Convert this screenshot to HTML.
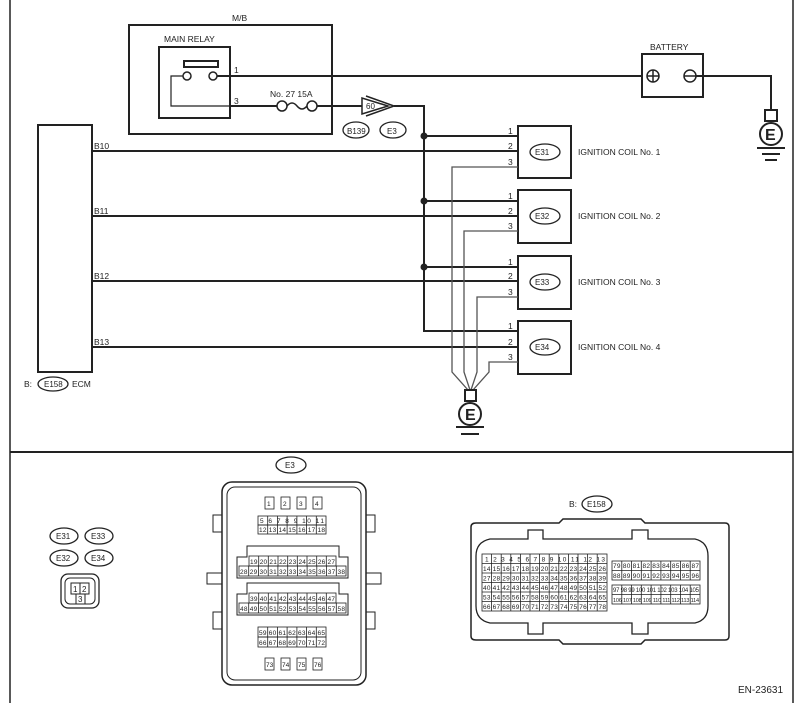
<!DOCTYPE html>
<html><head><meta charset="utf-8"><style>
body{margin:0;background:#fff}
svg{display:block;font-family:"Liberation Sans",sans-serif}
</style></head><body>
<svg width="804" height="703" viewBox="0 0 804 703" xmlns="http://www.w3.org/2000/svg">
<g fill="none" stroke="#222">
<line x1="10" y1="0" x2="10" y2="703" stroke-width="1.5"/>
<line x1="793" y1="0" x2="793" y2="703" stroke-width="1.5"/>
<line x1="10" y1="452" x2="793" y2="452" stroke-width="2"/>
<rect x="129" y="25" width="203" height="109" stroke-width="2"/>
<rect x="159" y="47" width="71" height="71" stroke-width="2"/>
<rect x="184" y="61" width="34" height="6" stroke-width="2"/>
<circle cx="187" cy="76" r="4" stroke-width="1.5"/>
<circle cx="213" cy="76" r="4" stroke-width="1.5"/>
<polyline points="183,76 171,76 171,106 230,106" stroke-width="1.2"/>
<line x1="217" y1="76" x2="642" y2="76" stroke-width="2"/>
<line x1="230" y1="106" x2="277" y2="106" stroke-width="2"/>
<circle cx="282" cy="106" r="5" stroke-width="1.5"/>
<circle cx="312" cy="106" r="5" stroke-width="1.5"/>
<path d="M287,106 Q292,100 297,106 T307,106" stroke-width="1.5"/>
<line x1="317" y1="106" x2="362" y2="106" stroke-width="2"/>
<polygon points="362,98 362,114 388,106" stroke-width="1.5"/>
<polyline points="366,96 394,106 366,116" stroke-width="1.5"/>
<polyline points="394,106 424,106 424,331 518,331" stroke-width="2"/>
<rect x="642" y="54" width="61" height="43" stroke-width="2"/>
<circle cx="653" cy="76" r="6" stroke-width="1.5"/>
<line x1="647" y1="76" x2="659" y2="76" stroke-width="1.5"/><line x1="653" y1="70" x2="653" y2="82" stroke-width="1.5"/>
<circle cx="690" cy="76" r="6" stroke-width="1.5"/>
<line x1="684" y1="76" x2="696" y2="76" stroke-width="1.5"/>
<polyline points="696,76 771,76 771,110" stroke-width="2"/>
<rect x="765" y="110" width="12" height="11" stroke-width="2"/>
<circle cx="771" cy="134" r="11" stroke-width="2"/>
<line x1="757" y1="148" x2="785" y2="148" stroke-width="2"/>
<line x1="762" y1="154" x2="780" y2="154" stroke-width="2"/>
<line x1="765" y1="160" x2="777" y2="160" stroke-width="2"/>
<rect x="38" y="125" width="54" height="247" stroke-width="2"/>
<rect x="518" y="126" width="53" height="52" stroke-width="2"/>
<rect x="518" y="190" width="53" height="53" stroke-width="2"/>
<rect x="518" y="256" width="53" height="53" stroke-width="2"/>
<rect x="518" y="321" width="53" height="53" stroke-width="2"/>
<g stroke-width="2">
<line x1="424" y1="136" x2="518" y2="136"/><line x1="424" y1="201" x2="518" y2="201"/><line x1="424" y1="267" x2="518" y2="267"/>
<line x1="92" y1="151" x2="518" y2="151"/><line x1="92" y1="216" x2="518" y2="216"/><line x1="92" y1="281" x2="518" y2="281"/><line x1="92" y1="347" x2="518" y2="347"/>
</g>
<g stroke="#555" stroke-width="1.3">
<polyline points="518,167 452,167 452,372 468,390"/>
<polyline points="518,231 464,231 464,372 470,390"/>
<polyline points="518,297 477,297 477,372 471,390"/>
<polyline points="518,362 489,362 489,372 473,390"/>
</g>
<rect x="465" y="390" width="11" height="11" stroke-width="2"/>
<circle cx="470" cy="414" r="11" stroke-width="2"/>
<line x1="456" y1="427" x2="484" y2="427" stroke-width="2"/>
<line x1="461" y1="434" x2="479" y2="434" stroke-width="2"/>
<ellipse cx="356" cy="130" rx="13" ry="8" stroke-width="1.3"/>
<ellipse cx="393" cy="130" rx="13" ry="8" stroke-width="1.3"/>
<ellipse cx="545" cy="152" rx="15" ry="8" stroke-width="1.3"/>
<ellipse cx="545" cy="216" rx="15" ry="8" stroke-width="1.3"/>
<ellipse cx="545" cy="282" rx="15" ry="8" stroke-width="1.3"/>
<ellipse cx="545" cy="347" rx="15" ry="8" stroke-width="1.3"/>
<ellipse cx="53" cy="384" rx="15" ry="7" stroke-width="1.3"/>
<ellipse cx="291" cy="465" rx="15" ry="8" stroke-width="1.3"/>
<ellipse cx="597" cy="504" rx="15" ry="8" stroke-width="1.3"/>
<ellipse cx="64" cy="536" rx="14" ry="8" stroke-width="1.3"/>
<ellipse cx="99" cy="536" rx="14" ry="8" stroke-width="1.3"/>
<ellipse cx="64" cy="558" rx="14" ry="8" stroke-width="1.3"/>
<ellipse cx="99" cy="558" rx="14" ry="8" stroke-width="1.3"/>
<rect x="61" y="574" width="38" height="34" rx="7" stroke-width="1.3"/>
<rect x="65" y="578" width="30" height="26" rx="5" stroke-width="1"/>
<rect x="71" y="583" width="9" height="11" stroke-width="1"/>
<rect x="80" y="583" width="9" height="11" stroke-width="1"/>
<rect x="76" y="594" width="9" height="10" stroke-width="1"/>
<!-- E3 connector -->
<rect x="222" y="482" width="144" height="203" rx="10" stroke-width="1.5"/>
<rect x="227" y="487" width="134" height="193" rx="8" stroke-width="1"/>
<rect x="207" y="573" width="15" height="11" stroke-width="1"/>
<rect x="366" y="573" width="15" height="11" stroke-width="1"/>
<rect x="213" y="515" width="9" height="17" stroke-width="1"/>
<rect x="366" y="515" width="9" height="17" stroke-width="1"/>
<rect x="213" y="612" width="9" height="17" stroke-width="1"/>
<rect x="366" y="612" width="9" height="17" stroke-width="1"/>
<path d="M237,578 V557 H247 V546 H339 V557 H348 V578 Z" stroke-width="1"/>
<path d="M237,615 V594 H247 V583 H339 V594 H348 V615 Z" stroke-width="1"/>
<!-- E158 connector -->
<path d="M471,527 Q471,523 476,523 H559 L563,519 H641 L645,523 H725 Q729,523 729,527 V636 Q729,640 725,640 H645 L641,644 H563 L559,640 H476 Q471,640 471,636 Z" stroke-width="1.5"/>
<path d="M490,539 H528 V530 H543 V539 H632 V530 H648 V539 H695 Q708,542 708,556 V606 Q708,620 695,623 H648 V634 H632 V623 H543 V634 H528 V623 H490 Q476,620 476,606 V556 Q476,542 490,539 Z" stroke-width="1.3"/>
</g>
<g fill="#222">
<circle cx="424" cy="136" r="3.5"/><circle cx="424" cy="201" r="3.5"/><circle cx="424" cy="267" r="3.5"/>
</g>
<g font-size="8.5" fill="#222">
<text x="232" y="21">M/B</text>
<text x="164" y="42">MAIN RELAY</text>
<text x="234" y="73">1</text><text x="234" y="104">3</text>
<text x="270" y="97">No. 27  15A</text>
<text x="366" y="109" font-size="8">60</text>
<text x="347" y="134" font-size="8">B139</text><text x="387" y="134" font-size="8">E3</text>
<text x="650" y="50">BATTERY</text>
<text x="765" y="140" font-size="16" font-weight="bold">E</text>
<text x="465" y="420" font-size="16" font-weight="bold">E</text>
<text x="508" y="134">1</text><text x="508" y="149">2</text><text x="508" y="165">3</text>
<text x="508" y="199">1</text><text x="508" y="214">2</text><text x="508" y="229">3</text>
<text x="508" y="265">1</text><text x="508" y="279">2</text><text x="508" y="295">3</text>
<text x="508" y="329">1</text><text x="508" y="345">2</text><text x="508" y="360">3</text>
<text x="535" y="155" font-size="8">E31</text><text x="535" y="219" font-size="8">E32</text>
<text x="535" y="285" font-size="8">E33</text><text x="535" y="350" font-size="8">E34</text>
<text x="578" y="155">IGNITION COIL No. 1</text>
<text x="578" y="219">IGNITION COIL No. 2</text>
<text x="578" y="285">IGNITION COIL No. 3</text>
<text x="578" y="350">IGNITION COIL No. 4</text>
<text x="94" y="149">B10</text><text x="94" y="214">B11</text><text x="94" y="279">B12</text><text x="94" y="345">B13</text>
<text x="24" y="387">B:</text><text x="44" y="387" font-size="8">E158</text><text x="72" y="387">ECM</text>
<text x="285" y="468" font-size="8">E3</text>
<text x="569" y="507">B:</text><text x="587" y="507" font-size="8">E158</text>
<text x="56" y="539" font-size="8">E31</text><text x="91" y="539" font-size="8">E33</text>
<text x="56" y="561" font-size="8">E32</text><text x="91" y="561" font-size="8">E34</text>
<text x="73" y="592" font-size="8">1</text><text x="82" y="592" font-size="8">2</text><text x="78" y="602" font-size="8">3</text>
<text x="738" y="693" font-size="10">EN-23631</text>
</g>
<!-- pin grids -->
<g fill="none" stroke="#222" stroke-width="0.8">
<rect x="265" y="497" width="9" height="12"/><rect x="281" y="497" width="9" height="12"/><rect x="297" y="497" width="9" height="12"/><rect x="313" y="497" width="9" height="12"/>
<rect x="258" y="516" width="68" height="9"/><rect x="258" y="525" width="68" height="9"/>
<path d="M267.7,516V534M277.4,516V534M287.1,516V534M296.9,516V534M306.6,516V534M316.3,516V534"/>
<rect x="249" y="556" width="87" height="10"/><rect x="239" y="566" width="107" height="10"/>
<path d="M258.7,556V566M268.3,556V566M278,556V566M287.7,556V566M297.3,556V566M307,556V566M316.7,556V566M326.3,556V566"/>
<path d="M248.7,566V576M258.5,566V576M268.2,566V576M277.9,566V576M287.7,566V576M297.4,566V576M307.1,566V576M316.8,566V576M326.6,566V576M336.3,566V576"/>
<rect x="249" y="593" width="87" height="10"/><rect x="239" y="603" width="107" height="10"/>
<path d="M258.7,593V603M268.3,593V603M278,593V603M287.7,593V603M297.3,593V603M307,593V603M316.7,593V603M326.3,593V603"/>
<path d="M248.7,603V613M258.5,603V613M268.2,603V613M277.9,603V613M287.7,603V613M297.4,603V613M307.1,603V613M316.8,603V613M326.6,603V613M336.3,603V613"/>
<rect x="258" y="627" width="68" height="10"/><rect x="258" y="637" width="68" height="10"/>
<path d="M267.7,627V647M277.4,627V647M287.1,627V647M296.9,627V647M306.6,627V647M316.3,627V647"/>
<rect x="265" y="658" width="9" height="12"/><rect x="281" y="658" width="9" height="12"/><rect x="297" y="658" width="9" height="12"/><rect x="313" y="658" width="9" height="12"/>
<rect x="482" y="554" width="125" height="57"/>
<path d="M482,563.5H607M482,573H607M482,582.5H607M482,592H607M482,601.5H607"/>
<path d="M491.6,554V611M501.2,554V611M510.8,554V611M520.4,554V611M530,554V611M539.6,554V611M549.2,554V611M558.8,554V611M568.4,554V611M578,554V611M587.6,554V611M597.2,554V611"/>
<rect x="612" y="561" width="88" height="19"/><rect x="612" y="585" width="88" height="19"/>
<path d="M612,570.5H700M612,594.5H700"/>
<path d="M621.8,561V580M631.6,561V580M641.3,561V580M651.1,561V580M660.9,561V580M670.7,561V580M680.4,561V580M690.2,561V580"/>
<path d="M621.8,585V604M631.6,585V604M641.3,585V604M651.1,585V604M660.9,585V604M670.7,585V604M680.4,585V604M690.2,585V604"/>
</g>
<g font-size="6.5" fill="#222" font-family="Liberation Sans Narrow, Liberation Sans, sans-serif">
<text x="267" y="506">1</text><text x="283" y="506">2</text><text x="299" y="506">3</text><text x="315" y="506">4</text>
<text x="260" y="523" textLength="64">5 6 7 8 9 10 11</text>
<text x="259" y="532" textLength="66">12 13 14 15 16 17 18</text>
<text x="250" y="564" textLength="85">19 20 21 22 23 24 25 26 27</text>
<text x="240" y="574" textLength="105">28 29 30 31 32 33 34 35 36 37 38</text>
<text x="250" y="601" textLength="85">39 40 41 42 43 44 45 46 47</text>
<text x="240" y="611" textLength="105">48 49 50 51 52 53 54 55 56 57 58</text>
<text x="259" y="635" textLength="66">59 60 61 62 63 64 65</text>
<text x="259" y="645" textLength="66">66 67 68 69 70 71 72</text>
<text x="266" y="667">73</text><text x="282" y="667">74</text><text x="298" y="667">75</text><text x="314" y="667">76</text>
<text x="485" y="561.5" textLength="120">1 2 3 4 5 6 7 8 9 10 11 12 13</text>
<text x="483" y="571" textLength="123">14 15 16 17 18 19 20 21 22 23 24 25 26</text>
<text x="483" y="580.5" textLength="123">27 28 29 30 31 32 33 34 35 36 37 38 39</text>
<text x="483" y="590" textLength="123">40 41 42 43 44 45 46 47 48 49 50 51 52</text>
<text x="483" y="599.5" textLength="123">53 54 55 56 57 58 59 60 61 62 63 64 65</text>
<text x="483" y="609" textLength="123">66 67 68 69 70 71 72 73 74 75 76 77 78</text>
<text x="613" y="568" textLength="86">79 80 81 82 83 84 85 86 87</text>
<text x="613" y="578" textLength="86">88 89 90 91 92 93 94 95 96</text>
<text x="613" y="592" textLength="86" font-size="6">97 98 99 100 101 102 103 104 105</text>
<text x="613" y="602" textLength="86" font-size="5.5">106 107 108 109 110 111 112 113 114</text>
</g>
</svg>
</body></html>
